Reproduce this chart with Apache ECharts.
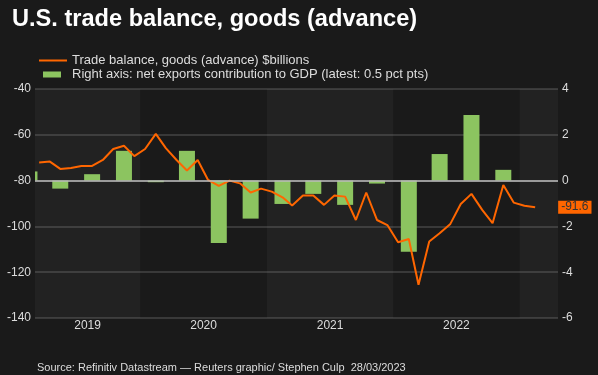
<!DOCTYPE html>
<html>
<head>
<meta charset="utf-8">
<script src="https://cdn.jsdelivr.net/npm/echarts@6/dist/echarts.min.js"></script>
<style>
html, body { margin: 0; background: #1a1a1a; }
#chart { width: 598px; height: 375px; }
</style>
</head>
<body>
<div id="chart"></div>
<script>
// monthly goods trade balance, $bn (plotted mid-month)
const months = [
    '2019-03', '2019-04', '2019-05', '2019-06', '2019-07', '2019-08', '2019-09', '2019-10', '2019-11', '2019-12',
    '2020-01', '2020-02', '2020-03', '2020-04', '2020-05', '2020-06', '2020-07', '2020-08', '2020-09', '2020-10', '2020-11', '2020-12',
    '2021-01', '2021-02', '2021-03', '2021-04', '2021-05', '2021-06', '2021-07', '2021-08', '2021-09', '2021-10', '2021-11', '2021-12',
    '2022-01', '2022-02', '2022-03', '2022-04', '2022-05', '2022-06', '2022-07', '2022-08', '2022-09', '2022-10', '2022-11', '2022-12',
    '2023-01', '2023-02'
];
const tradeBalance = [
    -72.1, -71.7, -74.9, -74.5, -73.6, -73.6, -71.0, -66.2, -64.8, -69.3,
    -66.2, -59.6, -65.8, -71.0, -75.6, -71.0, -79.7, -82.3, -80.0, -81.2, -85.2, -83.5,
    -84.8, -87.3, -90.9, -86.5, -86.5, -90.6, -86.5, -87.0, -97.2, -85.2, -97.2, -99.4,
    -106.9, -105.5, -125.5, -106.6, -103.0, -98.9, -90.2, -85.8, -92.8, -98.6, -81.9, -89.6,
    -91.0, -91.6
];

// quarterly net exports contribution to GDP, pct pts (plotted at mid-quarter)
const quarters = [
    '2019-02', '2019-05', '2019-08', '2019-11',
    '2020-02', '2020-05', '2020-08', '2020-11',
    '2021-02', '2021-05', '2021-08', '2021-11',
    '2022-02', '2022-05', '2022-08', '2022-11'
];
const netExports = [
    0.4, -0.35, 0.28, 1.3,
    -0.07, 1.3, -2.72, -1.66,
    -1.02, -0.58, -1.06, -0.13,
    -3.11, 1.16, 2.86, 0.47
];

// labelled years; 2023 gets a band but no label
const years = ['2019', '2020', '2021', '2022', '2023'];
const yearLabels = ['2019', '2020', '2021', '2022', ''];
const xMin = '2019-03-03';
const xMax = '2023-04-22';

const lineName = 'Trade balance, goods (advance) $billions';
const barName = 'Right axis: net exports contribution to GDP (latest: 0.5 pct pts)';
const font = 'Liberation Sans, Arial, sans-serif';
const barWidth = 16;

let chart = echarts.init(document.getElementById('chart'));

// year bands, clipped to the visible range
let bands = years.map((y, i) => {
    let start = i === 0 ? xMin : y + '-01-01';
    let end = i === years.length - 1 ? xMax : years[i + 1] + '-01-01';
    return [
        {name: yearLabels[i], xAxis: start, itemStyle: {color: i % 2 === 0 ? 'rgba(255,255,255,0.035)' : 'rgba(0,0,0,0)'}},
        {xAxis: end}
    ];
});

// quarterly bars as rects so they get clipped at the plot edge
const renderBar = (params, api) => {
    let base = api.coord([api.value(0), 0]);
    let tip = api.coord([api.value(0), api.value(1)]);
    return {
        type: 'rect',
        shape: {
            x: base[0] - barWidth / 2,
            y: Math.min(base[1], tip[1]),
            width: barWidth,
            height: Math.abs(tip[1] - base[1])
        },
        style: api.style()
    };
};

chart.setOption({
    backgroundColor: '#1a1a1a',
    animation: false,
    textStyle: {fontFamily: font},
    title: [
        {
            text: 'U.S. trade balance, goods (advance)',
            left: 12,
            top: 7,
            padding: 0,
            textStyle: {color: '#fff', fontSize: 23.6, fontWeight: 'bold', fontFamily: font}
        },
        {
            text: 'Source: Refinitiv Datastream \u2014 Reuters graphic/ Stephen Culp  28/03/2023',
            left: 37,
            top: 362,
            padding: 0,
            textStyle: {color: '#ddd', fontSize: 11, fontWeight: 'normal', fontFamily: font}
        }
    ],
    legend: [
        {
            data: [{name: lineName, icon: 'rect'}],
            left: 39,
            top: 54,
            padding: 0,
            itemWidth: 28,
            itemHeight: 2,
            textStyle: {color: '#ddd', fontSize: 13, fontFamily: font}
        },
        {
            data: [{name: barName, icon: 'rect'}],
            left: 43,
            top: 68,
            padding: 0,
            itemWidth: 18,
            itemHeight: 6,
            textStyle: {color: '#ddd', fontSize: 13, fontFamily: font, padding: [0, 0, 0, 6]}
        }
    ],
    grid: {left: 35, right: 40, top: 89, bottom: 57, outerBoundsMode: 'none'},
    xAxis: {
        type: 'time',
        min: xMin,
        max: xMax,
        axisLine: {show: false},
        axisTick: {show: false},
        axisLabel: {show: false},
        splitLine: {show: false}
    },
    yAxis: [
        {
            type: 'value',
            min: -140,
            max: -40,
            interval: 20,
            axisLine: {show: false},
            axisTick: {show: false},
            axisLabel: {color: '#ddd', fontSize: 12, margin: 4},
            splitLine: {lineStyle: {color: '#444', width: 1.5}}
        },
        {
            type: 'value',
            min: -6,
            max: 4,
            interval: 2,
            axisLine: {show: false},
            axisTick: {show: false},
            axisLabel: {color: '#ddd', fontSize: 12, margin: 4},
            splitLine: {show: false}
        }
    ],
    series: [
        {
            name: barName,
            type: 'custom',
            yAxisIndex: 1,
            clip: true,
            renderItem: renderBar,
            encode: {x: 0, y: 1},
            itemStyle: {color: '#8cc460'},
            data: quarters.map((q, i) => [q + '-15', netExports[i]]),
            markLine: {
                silent: true,
                symbol: 'none',
                label: {show: false},
                lineStyle: {color: '#bbb', width: 1.5, type: 'solid'},
                data: [{yAxis: 0}]
            }
        },
        {
            name: lineName,
            type: 'line',
            symbol: 'none',
            z: 3,
            lineStyle: {color: '#ff6600', width: 2},
            itemStyle: {color: '#ff6600'},
            data: months.map((m, i) => [m + '-15', tradeBalance[i]]),
            markArea: {
                silent: true,
                z: 0,
                label: {
                    show: true,
                    position: 'bottom',
                    distance: 2,
                    color: '#ddd',
                    fontSize: 12
                },
                data: bands
            },
            endLabel: {
                show: true,
                distance: 23,
                formatter: p => p.value[1].toFixed(1),
                backgroundColor: '#ff6600',
                color: '#333',
                fontSize: 12,
                padding: [1, 3, 0, 3]
            }
        }
    ]
});
</script>
</body>
</html>
